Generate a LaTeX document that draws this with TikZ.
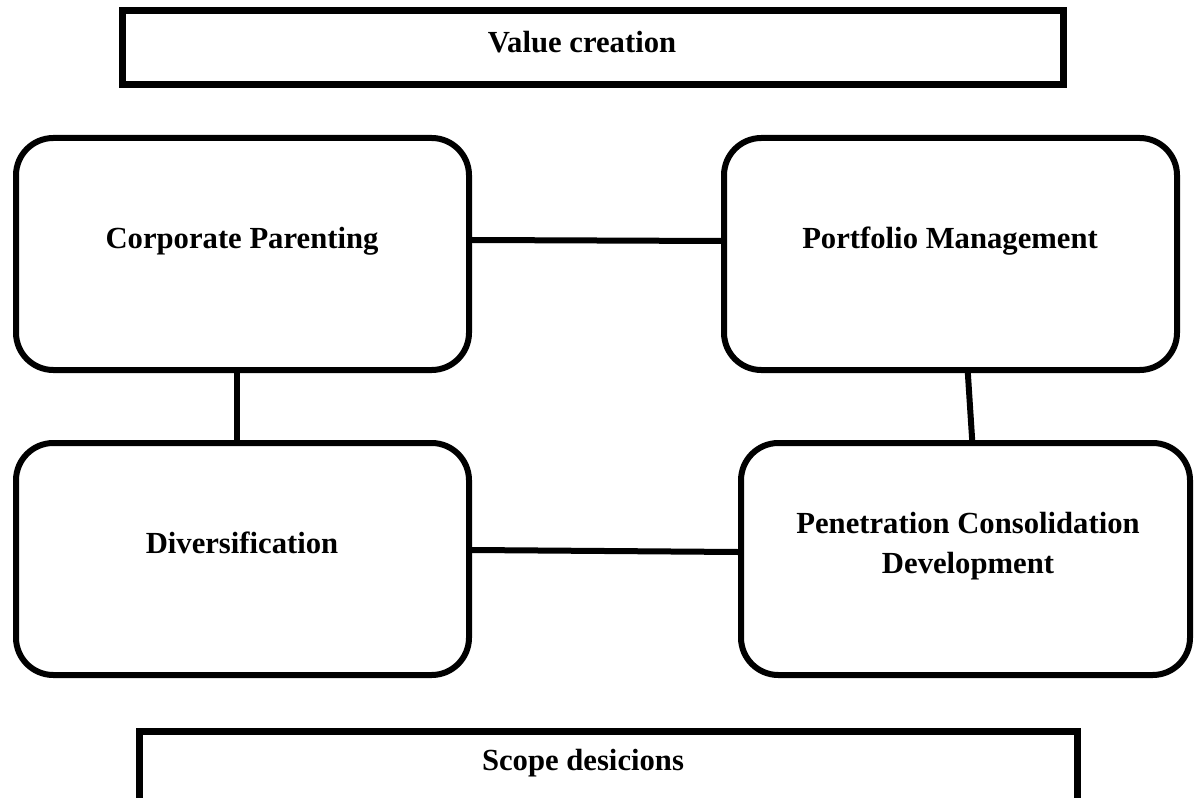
\documentclass[tikz,border=0pt]{standalone}
\usepackage{fontspec}
\setmainfont{Liberation Serif}
\begin{document}
\begin{tikzpicture}[x=0.75pt,y=-0.75pt,
  sqbox/.style={draw=black,line width=5.25pt,rectangle,inner sep=0pt},
  rbox/.style={draw=black,line width=4.5pt,rectangle,rounded corners=28pt,inner sep=0pt,minimum width=339.75pt,minimum height=174pt},
  lbl/.style={font=\fontsize{23}{30}\selectfont\bfseries,inner sep=0pt,align=center},
  conn/.style={line width=4.5pt}]
\useasboundingbox (0,0) rectangle (1194,798);
\clip (0,0) rectangle (1194,798);
% top and bottom boxes
\node[sqbox,minimum width=705.75pt,minimum height=55.5pt] (top) at (593,47.5) {};
\node[sqbox,minimum width=703.5pt,minimum height=75pt] (bot) at (608.5,781.5) {};
% rounded boxes
\node[rbox] (cp) at (242.5,254) {};
\node[rbox] (pm) at (950.5,254) {};
\node[rbox] (div) at (242.5,559) {};
\node[rbox,minimum width=336.75pt] (pen) at (965.5,559) {};
% labels
\node[lbl,anchor=base] (tval) at (582,53) {Value creation};
\node[lbl,anchor=base] (tscope) at (583,770) {Scope desicions};
\node[lbl,anchor=base] (tcp) at (242,249) {Corporate Parenting};
\node[lbl,anchor=base] (tpm) at (950,249) {Portfolio Management};
\node[lbl,anchor=base] (tdiv) at (242,553) {Diversification};
\node[lbl] (tpen) at (968,546) {Penetration Consolidation\\Development};
% connectors
\draw[conn] ([yshift=10.5pt]cp.east) -- ([yshift=9.75pt]pm.west);
\draw[conn] ([xshift=-4pt]cp.south) -- ([xshift=-4pt]div.north);
\draw[conn] ([xshift=13pt]pm.south) -- ([xshift=5pt]pen.north);
\draw[conn] ([yshift=6.75pt]div.east) -- ([yshift=5.25pt]pen.west);
\end{tikzpicture}
\end{document}
